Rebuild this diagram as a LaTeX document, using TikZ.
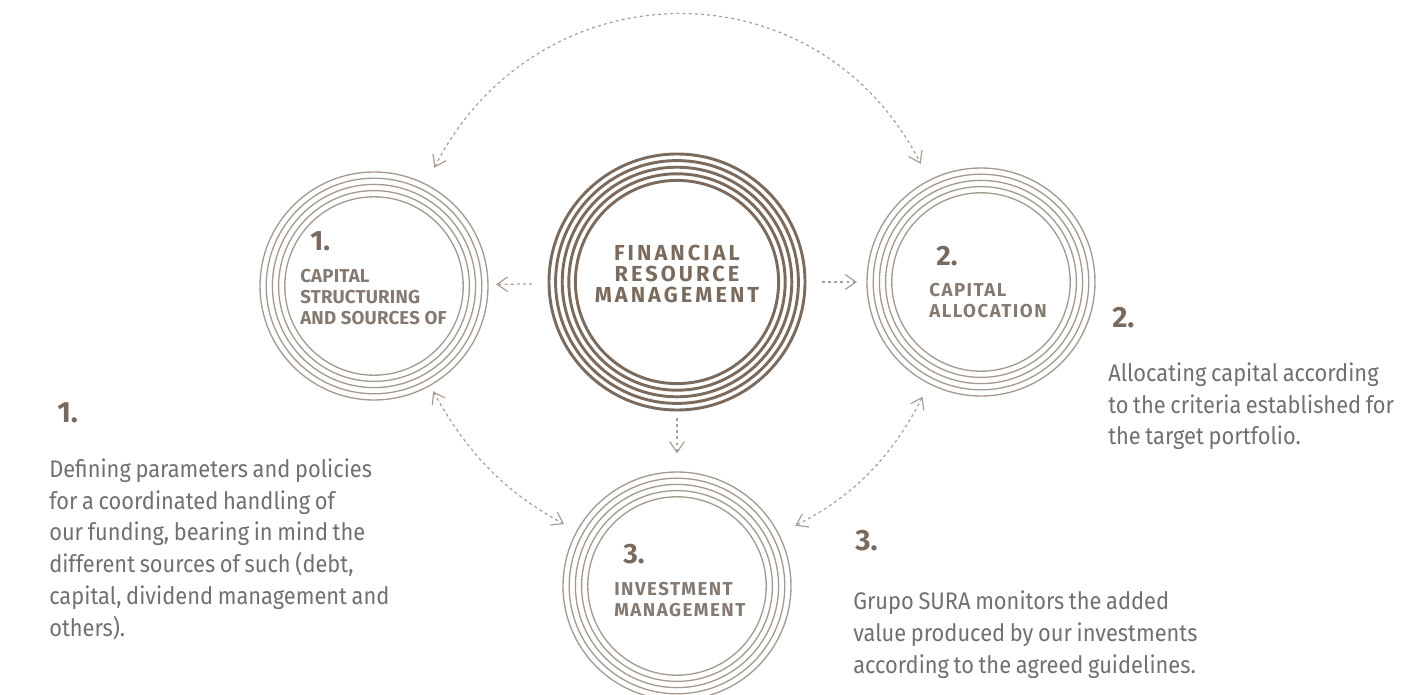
\documentclass[tikz,border=0pt]{standalone}
\usepackage{fontspec}
\setmainfont{Fira Sans}
\newfontfamily\bodyfont{Fira Sans}[FakeStretch=0.91, WordSpace=0.8]
\newfontfamily\titlefont{Fira Sans}[LetterSpace=14]
\newfontfamily\capsfont{Fira Sans}[LetterSpace=8]
\newfontfamily\plaincaps{Fira Sans}[LetterSpace=1]
\usetikzlibrary{arrows.meta}

\definecolor{ringdark}{HTML}{7B6B5E}
\definecolor{ringlight}{HTML}{A59A91}
\definecolor{linkc}{HTML}{A99E95}
\definecolor{numc}{HTML}{7A6A5E}
\definecolor{capc}{HTML}{857A71}
\definecolor{bodyc}{HTML}{707070}

\begin{document}
\begin{tikzpicture}[x=0.75pt,y=-0.75pt,
  hub/.style={circle, inner sep=0pt, outer sep=0pt, minimum size=192pt},
  sat/.style={circle, inner sep=0pt, outer sep=0pt, minimum size=171pt},
  darkring/.style={draw=ringdark, line width=2.2pt},
  lightring/.style={draw=ringlight, line width=1pt},
  link/.style={draw=linkc, line width=0.9pt, dash pattern=on 2.2pt off 2.4pt,
    >={Straight Barb[length=8pt, width=11pt, line width=0.9pt]}},
  bignum/.style={anchor=base west, text=numc, inner sep=0pt,
    font=\fontsize{21}{24}\bfseries\selectfont},
  sidenum/.style={anchor=base west, text=numc, inner sep=0pt,
    font=\fontsize{22}{26}\bfseries\selectfont},
  % multi-line nodes: the base anchor sits on the last line
  captext/.style={anchor=base west, align=left, text=capc, inner sep=0pt},
  bodytext/.style={anchor=base west, align=left, text=bodyc, inner sep=0pt,
    font=\bodyfont\fontsize{18}{23.8}\selectfont},
]
\useasboundingbox (0,0) rectangle (1411,695);

% circles
\node[hub] (c0) at (677,282) {};
\node[sat] (c1) at (374,286) {};
\node[sat] (c2) at (981,282) {};
\node[sat] (c3) at (677,586) {};

\foreach \k in {0,...,4}{
  \draw[darkring] (c0) circle[radius={128-6.6*\k}];
  \foreach \c in {c1,c2,c3}
    \draw[lightring] (\c) circle[radius={114-6.2*\k}];
}

% circle labels
\node[anchor=base, align=center, text=ringdark, inner sep=0pt,
  font=\titlefont\fontsize{16.3}{16}\bfseries\selectfont] (t0) at (677,303)
  {FINANCIAL\\RESOURCE\\MANAGEMENT};

\node[bignum] (n1) at (310,251) {1.};
\node[captext, font=\plaincaps\fontsize{14}{15.75}\bfseries\selectfont] (t1) at (300,325)
  {CAPITAL\\STRUCTURING\\AND SOURCES OF};

\node[bignum] (n2) at (936,266) {2.};
\node[captext, font=\capsfont\fontsize{14}{15.75}\bfseries\selectfont] (t2) at (929,318)
  {CAPITAL\\ALLOCATION};

\node[bignum] (n3) at (623,563) {3.};
\node[captext, font=\capsfont\fontsize{14}{15.75}\bfseries\selectfont] (t3) at (614,616)
  {INVESTMENT\\MANAGEMENT};

% side descriptions
\node[sidenum] (s1) at (57,422) {1.};
\node[bodytext] (d1) at (49,636)
  {Defining parameters and policies\\
   for a coordinated handling of\\
   our funding, bearing in mind the\\
   different sources of such (debt,\\
   capital, dividend management and\\
   others).};

\node[sidenum] (s2) at (1112,328) {2.};
\node[bodytext] (d2) at (1108,445)
  {Allocating capital according\\
   to the criteria established for\\
   the target portfolio.};

\node[sidenum] (s3) at (855,550) {3.};
\node[bodytext] (d3) at (853,673)
  {Grupo SURA monitors the added\\
   value produced by our investments\\
   according to the agreed guidelines.};

% connectors
\draw[link, <->, shorten <=14pt, shorten >=14pt]
  (c1) .. controls +(-63:360) and +(-117:360) .. (c2);
\draw[link, ->, shorten <=12.75pt, shorten >=6pt] (c0) -- (c1);
\draw[link, ->, shorten <=12.75pt, shorten >=7.5pt] (c0) -- (c2);
\draw[link, ->, shorten <=6pt, shorten >=14pt] (c0) -- (c3);
\draw[link, <->, shorten <=5pt, shorten >=11pt] (c1) to[bend right=16] (c3);
\draw[link, <->, shorten <=11pt, shorten >=14pt] (c2) to[bend left=18] (c3);
\end{tikzpicture}
\end{document}
